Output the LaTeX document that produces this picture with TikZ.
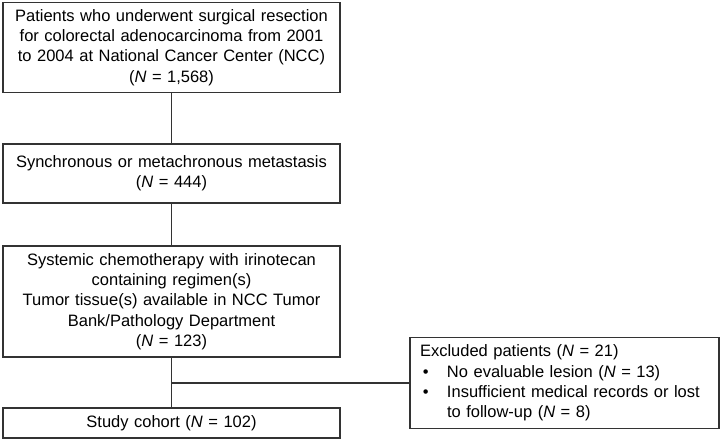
\documentclass[tikz,border=0pt]{standalone}
\usepackage{fontspec}
\setmainfont{Liberation Sans}
\usepackage{xcolor}

\begin{document}
\begin{tikzpicture}[x=1pt,y=-1pt,
    box/.style={draw=black!80,line width=1.1pt,inner sep=0pt,align=center,
        minimum width=337pt,text width=332pt,font=\fontsize{16.5}{20.3}\selectfont},
    link/.style={draw=black!80,line width=1.1pt}]
    \useasboundingbox (0,0) rectangle (722,440);
    \node[box,minimum height=90pt] (1) at (171.5,47.5) {Patients who underwent surgical resection\\for colorectal adenocarcinoma from 2001\\to 2004 at National Cancer Center (NCC)\\(\textit{N} = 1,568)};
    \node[box,minimum height=59pt] (2) at (171.5,173.5) {Synchronous or metachronous metastasis\\(\textit{N} = 444)};
    \node[box,minimum height=111pt] (3) at (171.5,301.5) {Systemic chemotherapy with irinotecan\\containing regimen(s)\\Tumor tissue(s) available in NCC Tumor\\Bank/Pathology Department\\(\textit{N} = 123)};
    \node[box,minimum height=30pt] (4) at (171.5,423) {Study cohort (\textit{N} = 102)};
    \node[box,align=left,minimum width=309pt,minimum height=91pt,text width=289pt,inner xsep=10pt] (5) at (564.5,383) {Excluded patients (\textit{N} = 21)\\
        \makebox[27pt][l]{\,•}No evaluable lesion (\textit{N} = 13)\\
        \makebox[27pt][l]{\,•}Insufficient medical records or lost\\
        \hspace*{27pt}to follow-up (\textit{N} = 8)};
    \coordinate (j) at (171.5,383);
    \draw[link] (1) to (2);
    \draw[link] (2) to (3);
    \draw[link] (3) to (4);
    \draw[link] (j) to (5.west);
\end{tikzpicture}
\end{document}
